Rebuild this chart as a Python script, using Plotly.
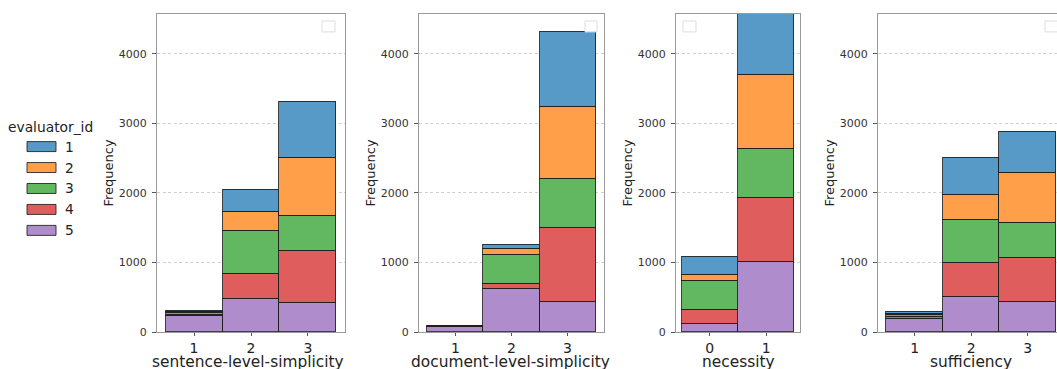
import plotly.graph_objects as go

# ---------------- data ----------------
evaluator_ids = [1, 2, 3, 4, 5]

sentence_cats = [1, 2, 3]
sentence_counts = {  # evaluator_id -> counts per category
    1: [12, 320, 803],
    2: [15, 278, 842],
    3: [25, 611, 501],
    4: [20, 358, 740],
    5: [225, 483, 426],
}

document_cats = [1, 2, 3]
document_counts = {
    1: [3, 62, 1075],
    2: [4, 86, 1032],
    3: [4, 416, 717],
    4: [5, 72, 1051],
    5: [76, 616, 440],
}

necessity_cats = [0, 1]
necessity_counts = {
    1: [263, 900],
    2: [81, 1061],
    3: [416, 707],
    4: [196, 923],
    5: [124, 1008],
}

sufficiency_cats = [1, 2, 3]
sufficiency_counts = {
    1: [20, 531, 582],
    2: [20, 369, 728],
    3: [25, 606, 492],
    4: [30, 502, 632],
    5: [188, 498, 440],
}

panel_titles = ["sentence-level-simplicity", "document-level-simplicity", "necessity", "sufficiency"]
y_ticks = [0, 1000, 2000, 3000, 4000]
legend_title = "evaluator_id"

colors = {
    1: "rgb(87,153,199)",
    2: "rgb(255,159,74)",
    3: "rgb(97,184,97)",
    4: "rgb(224,93,94)",
    5: "rgb(175,141,205)",
}

# ---------------- layout helpers ----------------
W, H_REF = 1057, 369
FIG_H = 375  # page viewport appears slightly taller than the captured picture
FONT = "DejaVu Sans"


def fx(px):
    return px / W


def fy(py):
    return 1 - py / H_REF


plot_top, plot_bottom = 14, 333
panels = [
    dict(cats=sentence_cats, counts=sentence_counts, left=157, right=345, xr=[0.35, 3.65], right_spine=True),
    dict(cats=document_cats, counts=document_counts, left=419, right=604, xr=[0.35, 3.65], right_spine=True),
    dict(cats=necessity_cats, counts=necessity_counts, left=676, right=800, xr=[-0.6, 1.6], right_spine=True),
    dict(cats=sufficiency_cats, counts=sufficiency_counts, left=878, right=1057, xr=[0.35, 3.52], right_spine=False),
]
title_centers = [248, 510, 738, 971]
empty_legend_boxes = [(322, 335), (585, 597), (683, 696), (1045, 1058)]

fig = go.Figure()
layout_axes = {}
annotations = []
shapes = []

for i, p in enumerate(panels):
    n = i + 1
    xa = "x" if n == 1 else f"x{n}"
    ya = "y" if n == 1 else f"y{n}"
    # stack bottom -> top: evaluator 5, 4, 3, 2, 1
    for ev in reversed(evaluator_ids):
        fig.add_trace(go.Bar(
            x=p["cats"], y=p["counts"][ev], name=str(ev), xaxis=xa, yaxis=ya,
            width=1.0, marker=dict(color=colors[ev], line=dict(color="rgba(30,30,30,0.85)", width=1)),
            showlegend=False, hoverinfo="x+y+name",
        ))
    layout_axes["xaxis" if n == 1 else f"xaxis{n}"] = dict(
        domain=[fx(p["left"]), fx(p["right"])], range=p["xr"], anchor=ya,
        tickvals=p["cats"], ticktext=[str(c) for c in p["cats"]],
        showgrid=False, zeroline=False, showline=True, linecolor="#9a9a9a", linewidth=1.3,
        mirror=True, ticks="outside", ticklen=3, tickcolor="#555",
        tickfont=dict(family=FONT, size=14, color="#222"),
    )
    layout_axes["yaxis" if n == 1 else f"yaxis{n}"] = dict(
        domain=[fy(plot_bottom), fy(plot_top)], range=[0, 4573], anchor=xa,
        tickvals=y_ticks, ticktext=[str(t) for t in y_ticks],
        showgrid=True, gridcolor="#d0d0d0", griddash="3px,2.5px", gridwidth=0.8,
        zeroline=False, showline=True, linecolor="#9a9a9a", linewidth=1.3,
        mirror=p["right_spine"], ticks="outside", ticklen=4, tickcolor="#555",
        ticklabelstandoff=3,
        tickfont=dict(family=FONT, size=11, color="#333"),
    )
    # x-axis title
    annotations.append(dict(
        text=panel_titles[i], xref="paper", yref="paper",
        x=fx(title_centers[i]), y=fy(363), xanchor="center", yanchor="middle", showarrow=False,
        font=dict(family=FONT, size=15.4, color="#222"),
    ))
    # y-axis title
    annotations.append(dict(
        text="Frequency", xref="paper", yref="paper", x=fx(p["left"] - 48), y=fy(174),
        xanchor="center", yanchor="middle", showarrow=False, textangle=-90,
        font=dict(family=FONT, size=13, color="#222"),
    ))

# empty legend boxes (matplotlib empty legends)
for (x0, x1) in empty_legend_boxes:
    shapes.append(dict(type="rect", xref="paper", yref="paper",
                       x0=fx(x0), x1=fx(x1), y0=fy(32), y1=fy(21),
                       line=dict(color="#dddddd", width=1), fillcolor="white", layer="above"))

# custom legend
annotations.append(dict(text=legend_title, xref="paper", yref="paper", x=fx(50), y=fy(127),
                        xanchor="center", yanchor="middle", showarrow=False,
                        font=dict(family=FONT, size=13.8, color="#222")))
for k, ev in enumerate(evaluator_ids):
    cy = 147 + 21 * k
    shapes.append(dict(type="rect", xref="paper", yref="paper",
                       x0=fx(27), x1=fx(56), y0=fy(cy + 5), y1=fy(cy - 5),
                       line=dict(color="rgba(30,30,30,0.85)", width=1), fillcolor=colors[ev]))
    annotations.append(dict(text=str(ev), xref="paper", yref="paper", x=fx(63), y=fy(cy),
                            xanchor="left", yanchor="middle", showarrow=False,
                            font=dict(family=FONT, size=13.8, color="#222")))

fig.update_layout(
    width=W, height=FIG_H, margin=dict(l=0, r=0, t=0, b=0),
    paper_bgcolor="white", plot_bgcolor="white",
    barmode="stack", bargap=0, showlegend=False,
    annotations=annotations, shapes=shapes,
    font=dict(family=FONT),
    **layout_axes,
)

post = (
    "document.body.style.margin='0';"
    "document.body.style.padding='0';"
    "document.body.style.lineHeight='0';"
    "document.body.style.fontSize='0';"
    "document.body.style.overflow='hidden';"
    "document.documentElement.style.overflow='hidden';"
)
fig.write_html("out.html", post_script=post, config={"displayModeBar": False})
